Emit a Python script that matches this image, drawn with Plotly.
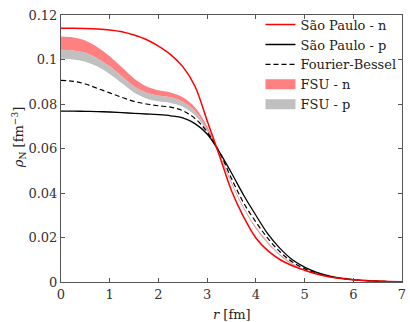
import plotly.graph_objects as go

r = [0, 0.25, 0.5, 0.75, 1.0, 1.25, 1.5, 1.75, 2.0, 2.25, 2.5, 2.75, 3.0, 3.25, 3.5,
     3.75, 4.0, 4.25, 4.5, 4.75, 5.0, 5.25, 5.5, 5.75, 6.0, 6.25, 6.5, 6.75, 7.0]

sp_n = [0.1140, 0.1140, 0.1139, 0.1137, 0.1133, 0.1125, 0.1110, 0.1090, 0.1060, 0.1022,
        0.0968, 0.0880, 0.0725, 0.0570, 0.0410, 0.0292, 0.0198, 0.0140, 0.0100, 0.0073,
        0.0053, 0.0036, 0.0024, 0.0016, 0.0010, 0.0006, 0.0004, 0.0002, 0.0001]

sp_p = [0.0768, 0.0768, 0.0767, 0.0766, 0.0764, 0.0761, 0.0758, 0.0755, 0.0752, 0.0747,
        0.0738, 0.0712, 0.0665, 0.0585, 0.0490, 0.0390, 0.0300, 0.0215, 0.0150, 0.0100,
        0.0067, 0.0043, 0.0027, 0.0017, 0.0011, 0.0007, 0.0004, 0.0002, 0.0001]

fb = [0.0906, 0.0902, 0.0890, 0.0870, 0.0850, 0.0830, 0.0812, 0.0800, 0.0792, 0.0786,
      0.0770, 0.0735, 0.0675, 0.0585, 0.0465, 0.0355, 0.0270, 0.0195, 0.0135, 0.0090,
      0.0060, 0.0040, 0.0025, 0.0016, 0.0010, 0.0006, 0.0004, 0.0002, 0.0001]

fsu_n_hi = [0.1103, 0.1099, 0.1085, 0.1055, 0.1015, 0.0965, 0.0915, 0.0880, 0.0862, 0.0852,
            0.0830, 0.0785, 0.0700, 0.0580, 0.0450, 0.0335, 0.0245, 0.0175, 0.0120, 0.0080,
            0.0053, 0.0035, 0.0022, 0.0014, 0.0009, 0.0006, 0.0004, 0.0002, 0.0001]
fsu_n_lo = [0.1044, 0.1041, 0.1030, 0.1005, 0.0970, 0.0925, 0.0880, 0.0852, 0.0838, 0.0830,
            0.0810, 0.0768, 0.0688, 0.0572, 0.0443, 0.0330, 0.0240, 0.0172, 0.0118, 0.0078,
            0.0052, 0.0034, 0.0021, 0.0013, 0.0008, 0.0005, 0.0003, 0.0002, 0.0001]
fsu_p_hi = fsu_n_lo
fsu_p_lo = [0.1003, 0.1000, 0.0990, 0.0968, 0.0935, 0.0893, 0.0852, 0.0825, 0.0812, 0.0805,
            0.0788, 0.0750, 0.0676, 0.0568, 0.0445, 0.0336, 0.0248, 0.0180, 0.0125, 0.0084,
            0.0056, 0.0037, 0.0023, 0.0015, 0.0009, 0.0006, 0.0004, 0.0002, 0.0001]

x_ticks = [0, 1, 2, 3, 4, 5, 6, 7]
y_ticks = [0, 0.02, 0.04, 0.06, 0.08, 0.1, 0.12]
y_tick_text = ["0", "0.02", "0.04", "0.06", "0.08", "0.1", "0.12"]

FONT = "DejaVu Serif"
FS = 13
RED_BAND = "rgb(255,128,128)"
GRAY_BAND = "rgb(192,192,192)"

fig = go.Figure()

# FSU - p band (gray)
fig.add_trace(go.Scatter(x=r, y=fsu_p_lo, mode="lines", line=dict(width=0, shape="spline"),
                         showlegend=False, hoverinfo="skip"))
fig.add_trace(go.Scatter(x=r, y=fsu_p_hi, mode="lines", line=dict(width=0, shape="spline"),
                         fill="tonexty", fillcolor=GRAY_BAND, showlegend=False))
# FSU - n band (red)
fig.add_trace(go.Scatter(x=r, y=fsu_n_lo, mode="lines", line=dict(width=0, shape="spline"),
                         showlegend=False, hoverinfo="skip"))
fig.add_trace(go.Scatter(x=r, y=fsu_n_hi, mode="lines", line=dict(width=0, shape="spline"),
                         fill="tonexty", fillcolor=RED_BAND, showlegend=False))

fig.add_trace(go.Scatter(x=r, y=fb, mode="lines", name="Fourier-Bessel", legendrank=3,
                         line=dict(color="black", width=1.2, dash="5px,3px", shape="spline")))
fig.add_trace(go.Scatter(x=r, y=sp_p, mode="lines", name="São Paulo - p", legendrank=2,
                         line=dict(color="black", width=1.3, shape="spline")))
fig.add_trace(go.Scatter(x=r, y=sp_n, mode="lines", name="São Paulo - n", legendrank=1,
                         line=dict(color="red", width=1.5, shape="spline")))
# legend swatches for the bands
fig.add_trace(go.Scatter(x=[None], y=[None], mode="lines", name="FSU - n", legendrank=4,
                         line=dict(color=RED_BAND, width=13)))
fig.add_trace(go.Scatter(x=[None], y=[None], mode="lines", name="FSU - p", legendrank=5,
                         line=dict(color=GRAY_BAND, width=13)))

axis_common = dict(showline=True, linecolor="#555", linewidth=1, mirror="ticks",
                   ticks="inside", ticklen=4, tickcolor="#555", showgrid=False,
                   zeroline=False, ticklabeloverflow="allow",
                   tickfont=dict(family=FONT, size=FS, color="#333"))

fig.update_layout(
    width=410, height=322,
    margin=dict(l=61, r=4, t=15, b=40),
    paper_bgcolor="white", plot_bgcolor="white",
    font=dict(family=FONT, size=FS, color="#222"),
    xaxis=dict(range=[0, 7], tickvals=x_ticks, **axis_common),
    yaxis=dict(range=[0, 0.12], tickvals=y_ticks, ticktext=y_tick_text, **axis_common),
    legend=dict(x=0.585, y=1.02, xanchor="left", yanchor="top", bgcolor="rgba(0,0,0,0)",
                borderwidth=0, font=dict(family=FONT, size=FS, color="#222"),
                tracegroupgap=0, itemwidth=30, traceorder="normal"),
    annotations=[
        dict(text="<i>r</i> [fm]", xref="paper", yref="paper", x=0.5, y=-0.12,
             xanchor="center", yanchor="middle", showarrow=False,
             font=dict(family=FONT, size=FS, color="#222")),
        dict(text="<i>ρ</i><sub>N</sub> [fm<sup>−3</sup>]", xref="paper", yref="paper",
             x=-0.125, y=0.54, xanchor="center", yanchor="middle", textangle=-90,
             showarrow=False, font=dict(family=FONT, size=FS, color="#222")),
    ],
)

fig.write_html("out.html", config={"displayModeBar": False},
               post_script="document.body.style.margin='0px';")
